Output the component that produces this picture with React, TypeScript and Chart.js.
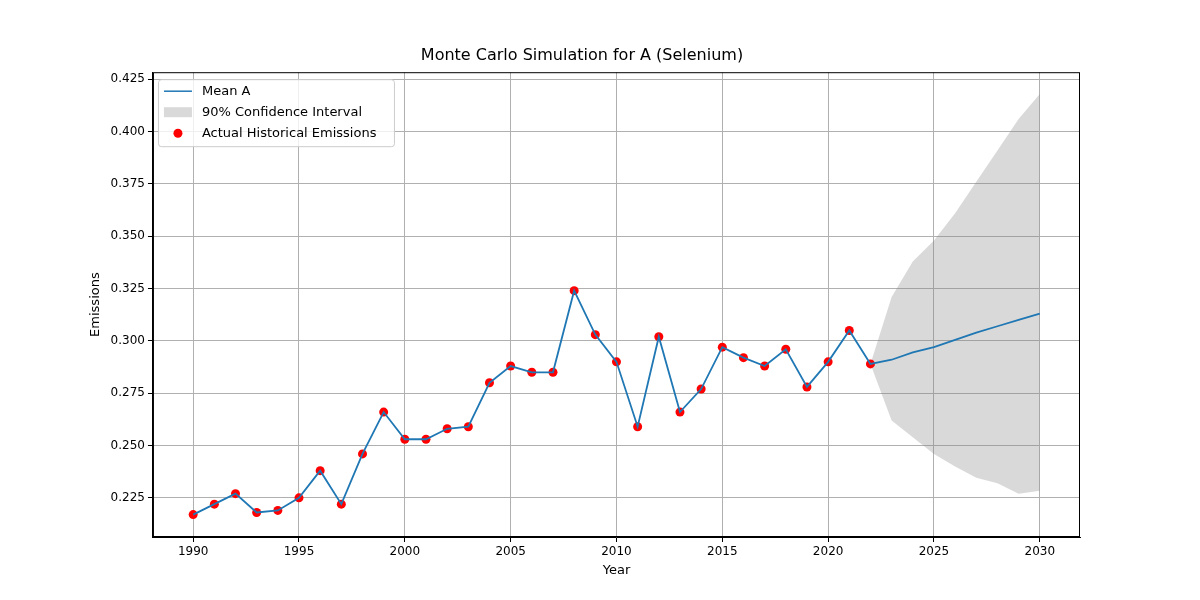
import { useEffect, useRef } from "react";
import Chart from "chart.js/auto";

const histYears = [1990, 1991, 1992, 1993, 1994, 1995, 1996, 1997, 1998, 1999, 2000, 2001, 2002, 2003, 2004, 2005, 2006, 2007, 2008, 2009, 2010, 2011, 2012, 2013, 2014, 2015, 2016, 2017, 2018, 2019, 2020, 2021, 2022];
const histValues = [0.217, 0.222, 0.227, 0.218, 0.219, 0.225, 0.238, 0.222, 0.246, 0.266, 0.253, 0.253, 0.258, 0.259, 0.28, 0.288, 0.285, 0.285, 0.324, 0.303, 0.29, 0.259, 0.302, 0.266, 0.277, 0.297, 0.292, 0.288, 0.296, 0.278, 0.29, 0.305, 0.289];
const forecastYears = [2022, 2023, 2024, 2025, 2026, 2027, 2028, 2029, 2030];
const forecastMean = [0.289, 0.291, 0.2945, 0.297, 0.3005, 0.304, 0.307, 0.31, 0.313];
const upper = [0.289, 0.321, 0.338, 0.348, 0.361, 0.376, 0.391, 0.406, 0.418];
const lower = [0.289, 0.262, 0.254, 0.246, 0.24, 0.2346, 0.232, 0.227, 0.2284];
const yTicks = [0.225, 0.25, 0.275, 0.3, 0.325, 0.35, 0.375, 0.4, 0.425];

const BLUE = "#1f77b4";
const FONT = "DejaVu Sans";

const meanPts = [
  ...histYears.map((x, i) => ({ x, y: histValues[i] })),
  ...forecastYears.slice(1).map((x, i) => ({ x, y: forecastMean[i + 1] })),
];

const legendPlugin = {
  id: "mplLegend",
  afterDatasetsDraw(chart: any) {
    const { ctx, chartArea } = chart;
    // frame
    ctx.save();
    ctx.strokeStyle = "#000";
    ctx.lineWidth = 1;
    ctx.strokeRect(chartArea.left + 0.5, chartArea.top + 0.5, chartArea.right - chartArea.left - 1, chartArea.bottom - chartArea.top - 1);
    const x0 = chartArea.left + 5;
    const y0 = chartArea.top + 7;
    ctx.fillStyle = "rgba(255,255,255,0.8)";
    ctx.strokeStyle = "#cccccc";
    ctx.beginPath();
    ctx.roundRect(x0 + 0.5, y0 + 0.5, 236, 67, 3);
    ctx.fill();
    ctx.stroke();
    ctx.font = `13px ${FONT}`;
    ctx.textBaseline = "middle";
    const rows = ["Mean A", "90% Confidence Interval", "Actual Historical Emissions"];
    rows.forEach((t, i) => {
      const cy = y0 + 12 + i * 21;
      if (i === 0) {
        ctx.strokeStyle = BLUE;
        ctx.lineWidth = 1.5;
        ctx.beginPath();
        ctx.moveTo(x0 + 6, cy);
        ctx.lineTo(x0 + 34, cy);
        ctx.stroke();
      } else if (i === 1) {
        ctx.fillStyle = "rgba(128,128,128,0.3)";
        ctx.fillRect(x0 + 6, cy - 5, 28, 10);
      } else {
        ctx.fillStyle = "red";
        ctx.beginPath();
        ctx.arc(x0 + 20, cy, 4.5, 0, Math.PI * 2);
        ctx.fill();
      }
      ctx.fillStyle = "#000";
      ctx.fillText(t, x0 + 44, cy);
    });
    ctx.restore();
  },
};

export default function App() {
  const canvasRef = useRef<HTMLCanvasElement>(null);

  useEffect(() => {
    const el = canvasRef.current;
    if (!el) return;
    const chart = new Chart(el, {
      type: "line",
      data: {
        datasets: [
          {
            label: "Actual Historical Emissions",
            data: histYears.map((x, i) => ({ x, y: histValues[i] })),
            showLine: false,
            pointRadius: 4.5,
            pointBackgroundColor: "red",
            pointBorderWidth: 0,
            order: 2,
          },
          {
            label: "Mean A",
            data: meanPts,
            borderColor: BLUE,
            borderWidth: 1.8,
            pointRadius: 0,
            tension: 0,
            order: 1,
          },
          {
            label: "upper",
            data: forecastYears.map((x, i) => ({ x, y: upper[i] })),
            borderColor: "rgba(0,0,0,0)",
            pointRadius: 0,
            order: 3,
          },
          {
            label: "90% Confidence Interval",
            data: forecastYears.map((x, i) => ({ x, y: lower[i] })),
            borderColor: "rgba(0,0,0,0)",
            backgroundColor: "rgba(128,128,128,0.3)",
            fill: "-1",
            pointRadius: 0,
            order: 3,
          },
        ],
      },
      options: {
        responsive: false,
        animation: false,
        layout: { padding: { left: 84, right: 120, top: 8, bottom: 18 } },
        plugins: {
          legend: { display: false },
          tooltip: { enabled: false },
          title: {
            display: true,
            text: "Monte Carlo Simulation for A (Selenium)",
            color: "#000",
            font: { family: FONT, size: 16, weight: "normal" },
            padding: { top: 38, bottom: 7 },
          },
        },
        scales: {
          x: {
            type: "linear",
            min: 1988.1,
            max: 2031.9,
            grid: { color: "#b0b0b0", drawTicks: true, tickLength: 5, tickColor: "#000" },
            border: { color: "#000" },
            afterBuildTicks: (s: any) => {
              s.ticks = [1990, 1995, 2000, 2005, 2010, 2015, 2020, 2025, 2030].map((v) => ({ value: v }));
            },
            ticks: { color: "#000", font: { family: FONT, size: 12 }, callback: (v: any) => String(v) },
            title: { display: true, text: "Year", color: "#000", font: { family: FONT, size: 13 }, padding: { top: 0 } },
          },
          y: {
            min: 0.2063,
            max: 0.4284,
            grid: { color: "#b0b0b0", tickLength: 5, tickColor: "#000" },
            border: { color: "#000" },
            afterBuildTicks: (s: any) => {
              s.ticks = yTicks.map((v) => ({ value: v }));
            },
            ticks: { color: "#000", font: { family: FONT, size: 12 }, callback: (v: any) => Number(v).toFixed(3) },
            title: { display: true, text: "Emissions", color: "#000", font: { family: FONT, size: 13 } },
          },
        },
      },
      plugins: [legendPlugin],
    });
    return () => chart.destroy();
  }, []);

  return (
    <div style={{ position: "fixed", left: 0, top: 0, background: "#fff" }}>
      <canvas ref={canvasRef} width={1200} height={600} />
    </div>
  );
}
